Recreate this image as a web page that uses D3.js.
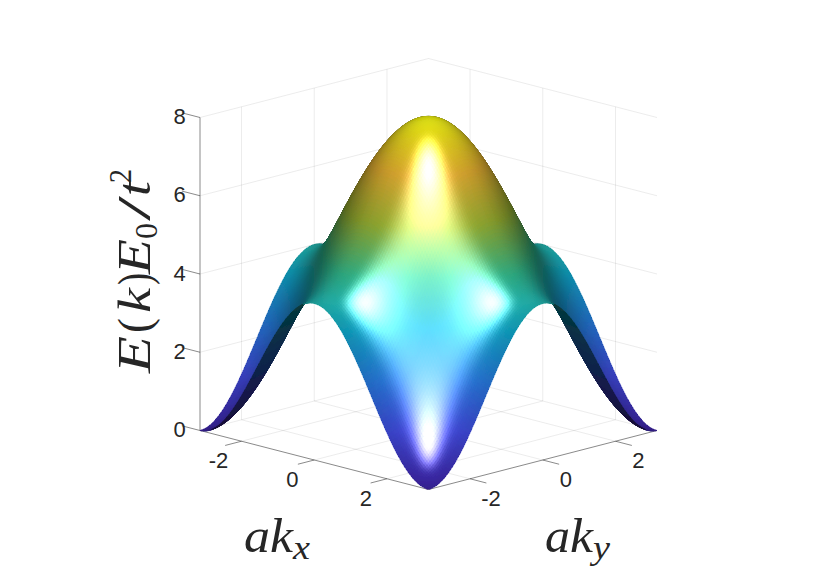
<!DOCTYPE html>
<meta charset="utf-8">
<style>
    html, body { margin: 0; padding: 0; background: #fff; }
    text { fill: #262626; }
    .tick-label { font-family: "Liberation Sans", Arial, sans-serif; font-size: 22px; text-anchor: middle; dominant-baseline: central; }
    .math { font-family: "Liberation Serif", serif; font-style: italic; }
</style>
<body>
<div id="canvas"></div>
</body>
<script src="https://d3js.org/d3.v7.min.js"></script>
<script>

// ticks
var kTicks = [-2, 0, 2];
var energyTicks = [0, 2, 4, 6, 8];

// band height along one k direction, read every 2.5 degrees from -pi to pi
// E(kx, ky) is the sum of this profile taken in x and in y
var bandProfile = [
    0, 0.002, 0.008, 0.017, 0.030, 0.047, 0.068, 0.093, 0.121, 0.152, 0.187, 0.226,
    0.268, 0.313, 0.362, 0.413, 0.468, 0.525, 0.586, 0.649, 0.714, 0.782, 0.853, 0.925,
    1.000, 1.076, 1.155, 1.235, 1.316, 1.399, 1.482, 1.567, 1.653, 1.739, 1.826, 1.913,
    2.000, 2.087, 2.174, 2.261, 2.347, 2.433, 2.518, 2.601, 2.684, 2.765, 2.845, 2.924,
    3.000, 3.075, 3.147, 3.218, 3.286, 3.351, 3.414, 3.475, 3.532, 3.587, 3.638, 3.687,
    3.732, 3.774, 3.813, 3.848, 3.879, 3.907, 3.932, 3.953, 3.970, 3.983, 3.992, 3.998,
    4.000,
    3.998, 3.992, 3.983, 3.970, 3.953, 3.932, 3.907, 3.879, 3.848, 3.813, 3.774, 3.732,
    3.687, 3.638, 3.587, 3.532, 3.475, 3.414, 3.351, 3.286, 3.218, 3.147, 3.075, 3.000,
    2.924, 2.845, 2.765, 2.684, 2.601, 2.518, 2.433, 2.347, 2.261, 2.174, 2.087, 2.000,
    1.913, 1.826, 1.739, 1.653, 1.567, 1.482, 1.399, 1.316, 1.235, 1.155, 1.076, 1.000,
    0.925, 0.853, 0.782, 0.714, 0.649, 0.586, 0.525, 0.468, 0.413, 0.362, 0.313, 0.268,
    0.226, 0.187, 0.152, 0.121, 0.093, 0.068, 0.047, 0.030, 0.017, 0.008, 0.002, 0
];

var parulaStops = ["#3e26a8", "#4752f4", "#2d87f7", "#12b1d6", "#37c897", "#abc739", "#fec338", "#f9fb14"];

var width = 830, height = 587;
var PI = Math.PI;

var kGrid = bandProfile.map(function(d, i){ return -PI + i * 2 * PI / (bandProfile.length - 1); });

// scales for the fixed 3d view
var sx = d3.scaleLinear().domain([-2 * PI, 2 * PI]).range([200, 657]);
var floorY = d3.scaleLinear().domain([-2 * PI, 2 * PI]).range([-59, 59]);
var z = d3.scaleLinear().domain([0, 8]).range([430.5, 117.5]);
var color = d3.scaleLinear()
    .domain(parulaStops.map(function(d, i){ return 8 * i / (parulaStops.length - 1); }))
    .range(parulaStops);

function project(kx, ky, e){
    return [sx(kx + ky), z(e) + floorY(kx - ky)];
}

// lighting, box units in pixels
var el = 15 * PI / 180, lightEl = 55 * PI / 180;
var boxK = 162 / PI, boxE = 40.3;
var viewDir = [Math.cos(el) / Math.SQRT2, -Math.cos(el) / Math.SQRT2, Math.sin(el)];
var lightDir = [Math.cos(lightEl) / Math.SQRT2, -Math.cos(lightEl) / Math.SQRT2, Math.sin(lightEl)];
var ka = 0.3, kd = 0.6, ks = 0.85, shiny = 15;

function dot(a, b){ return a[0] * b[0] + a[1] * b[1] + a[2] * b[2]; }

function shade(base, n){
    if (dot(n, viewDir) < 0) n = [-n[0], -n[1], -n[2]];
    var nl = dot(n, lightDir);
    var diff = ka + kd * Math.max(nl, 0);
    var r = [2 * nl * n[0] - lightDir[0], 2 * nl * n[1] - lightDir[1], 2 * nl * n[2] - lightDir[2]];
    var spec = nl > 0 ? ks * Math.pow(Math.max(dot(r, viewDir), 0), shiny) : 0;
    var c = d3.rgb(base);
    return d3.rgb(c.r * diff + 255 * spec, c.g * diff + 255 * spec, c.b * diff + 255 * spec).clamp().formatHex();
}

// slope of the profile across cell i, taken over a few cells so rounding does not show
function slope(i){
    var a = Math.max(i - 2, 0), b = Math.min(i + 3, bandProfile.length - 1);
    return (bandProfile[b] - bandProfile[a]) / ((kGrid[b] - kGrid[a]) * boxK) * boxE;
}

// surface cells
var cells = [];
var last = kGrid.length - 1;
for (var i = 0; i < last; i++) {
    for (var j = 0; j < last; j++) {
        var e00 = bandProfile[i] + bandProfile[j],
            e10 = bandProfile[i + 1] + bandProfile[j],
            e01 = bandProfile[i] + bandProfile[j + 1],
            e11 = bandProfile[i + 1] + bandProfile[j + 1];
        var du = slope(i), dv = slope(j);
        var len = Math.sqrt(du * du + dv * dv + 1);
        var n = [-du / len, -dv / len, 1 / len];
        var mean = (e00 + e10 + e01 + e11) / 4;
        var kxm = (kGrid[i] + kGrid[i + 1]) / 2, kym = (kGrid[j] + kGrid[j + 1]) / 2;
        cells.push({
            pts: [project(kGrid[i], kGrid[j], e00), project(kGrid[i + 1], kGrid[j], e10),
                  project(kGrid[i + 1], kGrid[j + 1], e11), project(kGrid[i], kGrid[j + 1], e01)],
            fill: shade(color(mean), n),
            depth: dot([kxm * boxK, kym * boxK, mean * boxE], viewDir)
        });
    }
}
cells.sort(function(a, b){ return a.depth - b.depth; });

var svg = d3.select("#canvas").append("svg")
    .attr("width", width)
    .attr("height", height)
    .style("display", "block");

// slight blur softens the aliased edge of the mesh
svg.append("defs").append("filter")
    .attr("id", "soften")
    .attr("filterUnits", "userSpaceOnUse")
    .attr("x", 0).attr("y", 0)
    .attr("width", width).attr("height", height)
    .append("feGaussianBlur")
    .attr("stdDeviation", 0.7);

function addLine(g, a, b){
    g.append("line")
        .attr("x1", a[0]).attr("y1", a[1])
        .attr("x2", b[0]).attr("y2", b[1]);
}

// grid on the floor and the two back walls
var grid = svg.append("g")
    .attr("stroke", "#262626")
    .attr("stroke-opacity", 0.11)
    .attr("stroke-width", 0.8);

kTicks.forEach(function(t){
    addLine(grid, project(t, -PI, 0), project(t, PI, 0));
    addLine(grid, project(-PI, t, 0), project(PI, t, 0));
    addLine(grid, project(t, PI, 0), project(t, PI, 8));
    addLine(grid, project(-PI, t, 0), project(-PI, t, 8));
});
energyTicks.forEach(function(t){
    addLine(grid, project(-PI, -PI, t), project(-PI, PI, t));
    addLine(grid, project(-PI, PI, t), project(PI, PI, t));
});

// axis lines and ticks
var axes = svg.append("g")
    .attr("stroke", "#262626")
    .attr("stroke-opacity", 0.6)
    .attr("stroke-width", 0.9);

addLine(axes, project(-PI, -PI, 0), project(-PI, -PI, 8));
addLine(axes, project(-PI, -PI, 0), project(PI, -PI, 0));
addLine(axes, project(PI, -PI, 0), project(PI, PI, 0));

var tickLen = 0.45;
kTicks.forEach(function(t){
    addLine(axes, project(t, -PI, 0), project(t, -PI - tickLen, 0));
    addLine(axes, project(PI, t, 0), project(PI + tickLen, t, 0));
});
energyTicks.forEach(function(t){
    addLine(axes, project(-PI, -PI, t), project(-PI - 0.5, -PI, t));
});

// surface, back to front; crisp edges so the hidden back side cannot bleed through the seams
svg.append("g")
    .attr("filter", "url(#soften)")
    .attr("shape-rendering", "crispEdges")
    .selectAll("polygon")
    .data(cells)
    .enter()
    .append("polygon")
    .attr("points", function(d){ return d.pts.join(" "); })
    .attr("fill", function(d){ return d.fill; })
    .attr("stroke", function(d){ return d.fill; })
    .attr("stroke-width", 0.6)
    .attr("stroke-linejoin", "round");

// tick labels
var labels = svg.append("g");
energyTicks.forEach(function(t){
    labels.append("text").attr("class", "tick-label")
        .attr("x", 179.5).attr("y", z(t) - 1).text(t);
});
kTicks.forEach(function(t){
    var p = project(t, -PI, 0);
    labels.append("text").attr("class", "tick-label")
        .attr("x", p[0] - 22 - (t < 0 ? 1 : 0) + (t > 0 ? 1 : 0)).attr("y", p[1] + 19.5).text(t);
    var q = project(PI, t, 0);
    labels.append("text").attr("class", "tick-label")
        .attr("x", q[0] + 23 - (t < 0 ? 2 : 0)).attr("y", q[1] + 19.5).text(t);
});

// axis titles: [text, start, length, baseline shift, size, upright]
// each glyph is stretched to the wider math font spacing of the original
function mathLabel(g, parts){
    parts.forEach(function(p){
        g.append("text")
            .attr("class", "math")
            .attr("x", p[1])
            .attr("y", p[3])
            .attr("font-size", p[4])
            .attr("textLength", p[2])
            .attr("lengthAdjust", "spacingAndGlyphs")
            .style("font-style", p[5] ? "normal" : "italic")
            .text(p[0]);
    });
}

mathLabel(svg.append("g").attr("transform", "translate(244,552)"), [
    ["a", 0, 26, 0, 49], ["k", 26, 23, 0, 49], ["x", 49, 17, 7, 33]
]);
mathLabel(svg.append("g").attr("transform", "translate(545,552)"), [
    ["a", 0, 25, 0, 49], ["k", 25, 23, 0, 49], ["y", 48, 17, 7, 33]
]);
mathLabel(svg.append("g").attr("transform", "translate(150,373) rotate(-90)"), [
    ["E", 0, 37, 0, 47],
    ["(", 40, 15, 0, 47, true],
    ["k", 60, 25, 0, 47],
    [")", 88, 12, 0, 47, true],
    ["E", 99, 35, 0, 47],
    ["0", 134, 16, 7, 32, true],
    ["/", 152, 25, 0, 47, true],
    ["t", 177, 15, 0, 47],
    ["2", 190, 14, -19, 32, true]
]);

</script>
